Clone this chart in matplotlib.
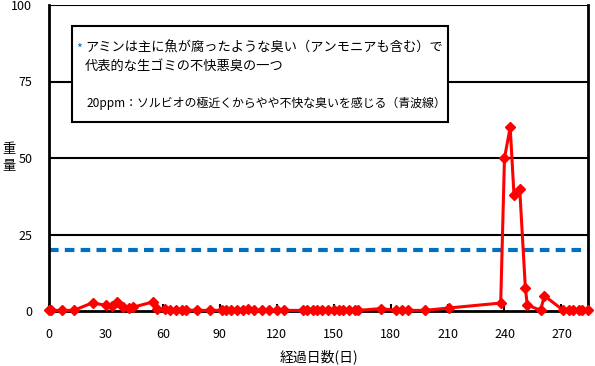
import matplotlib.pyplot as plt
from matplotlib.patches import Rectangle

plt.rcParams['font.family'] = ['Noto Sans CJK JP', 'DejaVu Sans']

# Data (day, amine value)
days = [0, 1, 7, 13, 23, 30, 33, 36, 39, 42, 44, 55, 57, 61, 64, 67, 70, 72,
        78, 85, 91, 93, 96, 99, 102, 105, 108, 112, 116, 120, 124,
        134, 136, 139, 141, 144, 147, 150, 153, 155, 158, 161, 163,
        175, 183, 186, 189, 198, 211, 238, 240, 243, 245, 248, 251, 252,
        259, 261, 271, 274, 276, 279, 281, 284]
values = [0.2, 0.2, 0.2, 0.2, 2.7, 1.8, 1.5, 2.9, 1.2, 1.0, 1.2, 3.0, 0.7, 0.6, 0.3, 0.3, 0.3, 0.3,
          0.2, 0.2, 0.2, 0.2, 0.2, 0.3, 0.4, 0.7, 0.3, 0.2, 0.2, 0.2, 0.2,
          0.2, 0.2, 0.2, 0.2, 0.2, 0.2, 0.2, 0.2, 0.2, 0.2, 0.2, 0.2,
          0.8, 0.2, 0.2, 0.2, 0.2, 1.0, 2.6, 50, 60, 38, 40, 7.5, 2.0,
          0.2, 5.0, 0.2, 0.2, 0.2, 0.2, 0.2, 0.2]
threshold = 20
x_ticks = [0, 30, 60, 90, 120, 150, 180, 210, 240, 270]
y_ticks = [0, 25, 50, 75, 100]

note_line1 = "アミンは主に魚が腐ったような臭い（アンモニアも含む）で"
note_line2 = "代表的な生ゴミの不快悪臭の一つ"
note_line3 = "20ppm：ソルビオの極近くからやや不快な臭いを感じる（青波線）"

fig = plt.figure(figsize=(5.95, 3.66), dpi=100)
ax = fig.add_axes([49 / 595, 1 - 311 / 366, (588 - 49) / 595, (311 - 5) / 366])

# gridlines
for y in y_ticks[1:]:
    ax.axhline(y, color="black", lw=1.5, zorder=1)

ax.axhline(threshold, color="#0070C0", lw=3, dashes=(2.3, 1.5), zorder=2)
ax.plot(days, values, color="#FF0000", lw=2.2, marker="D", markersize=5,
        markeredgecolor="#FF0000", zorder=3, clip_on=False)

ax.set_xlim(0, 284)
ax.set_ylim(0, 100)
ax.set_xticks(x_ticks)
ax.set_yticks(y_ticks)
ax.tick_params(axis="x", direction="in", length=5, width=1.5, labelsize=9, pad=12)
ax.tick_params(axis="y", length=0, labelsize=9, pad=12)
for side in ["left", "bottom", "right"]:
    ax.spines[side].set_linewidth(2)
ax.spines["top"].set_visible(False)

ax.set_xlabel("経過日数(日)", fontsize=10, labelpad=6)
fig.text(9 / 595, 1 - 158 / 366, "重\n量", fontsize=9.5, ha="center", va="center",
         linespacing=1.35)

# note box
ax.add_patch(Rectangle((23 / 539, 189 / 306), 376 / 539, 96 / 306,
                       transform=ax.transAxes, facecolor="white",
                       edgecolor="black", lw=1.5, zorder=4))
ax.text(27 / 539, 1 - 44 / 306, "*", color="#0070C0", fontsize=9,
        transform=ax.transAxes, va="center", ha="left", zorder=5)
ax.text(36 / 539, 1 - 43 / 306, note_line1, fontsize=9.5,
        transform=ax.transAxes, va="center", ha="left", zorder=5)
ax.text(36 / 539, 1 - 61 / 306, note_line2, fontsize=9.5,
        transform=ax.transAxes, va="center", ha="left", zorder=5)
ax.text(38 / 539, 1 - 98 / 306, note_line3, fontsize=8.6,
        transform=ax.transAxes, va="center", ha="left", zorder=5)

fig.savefig("out.png", dpi=100)
